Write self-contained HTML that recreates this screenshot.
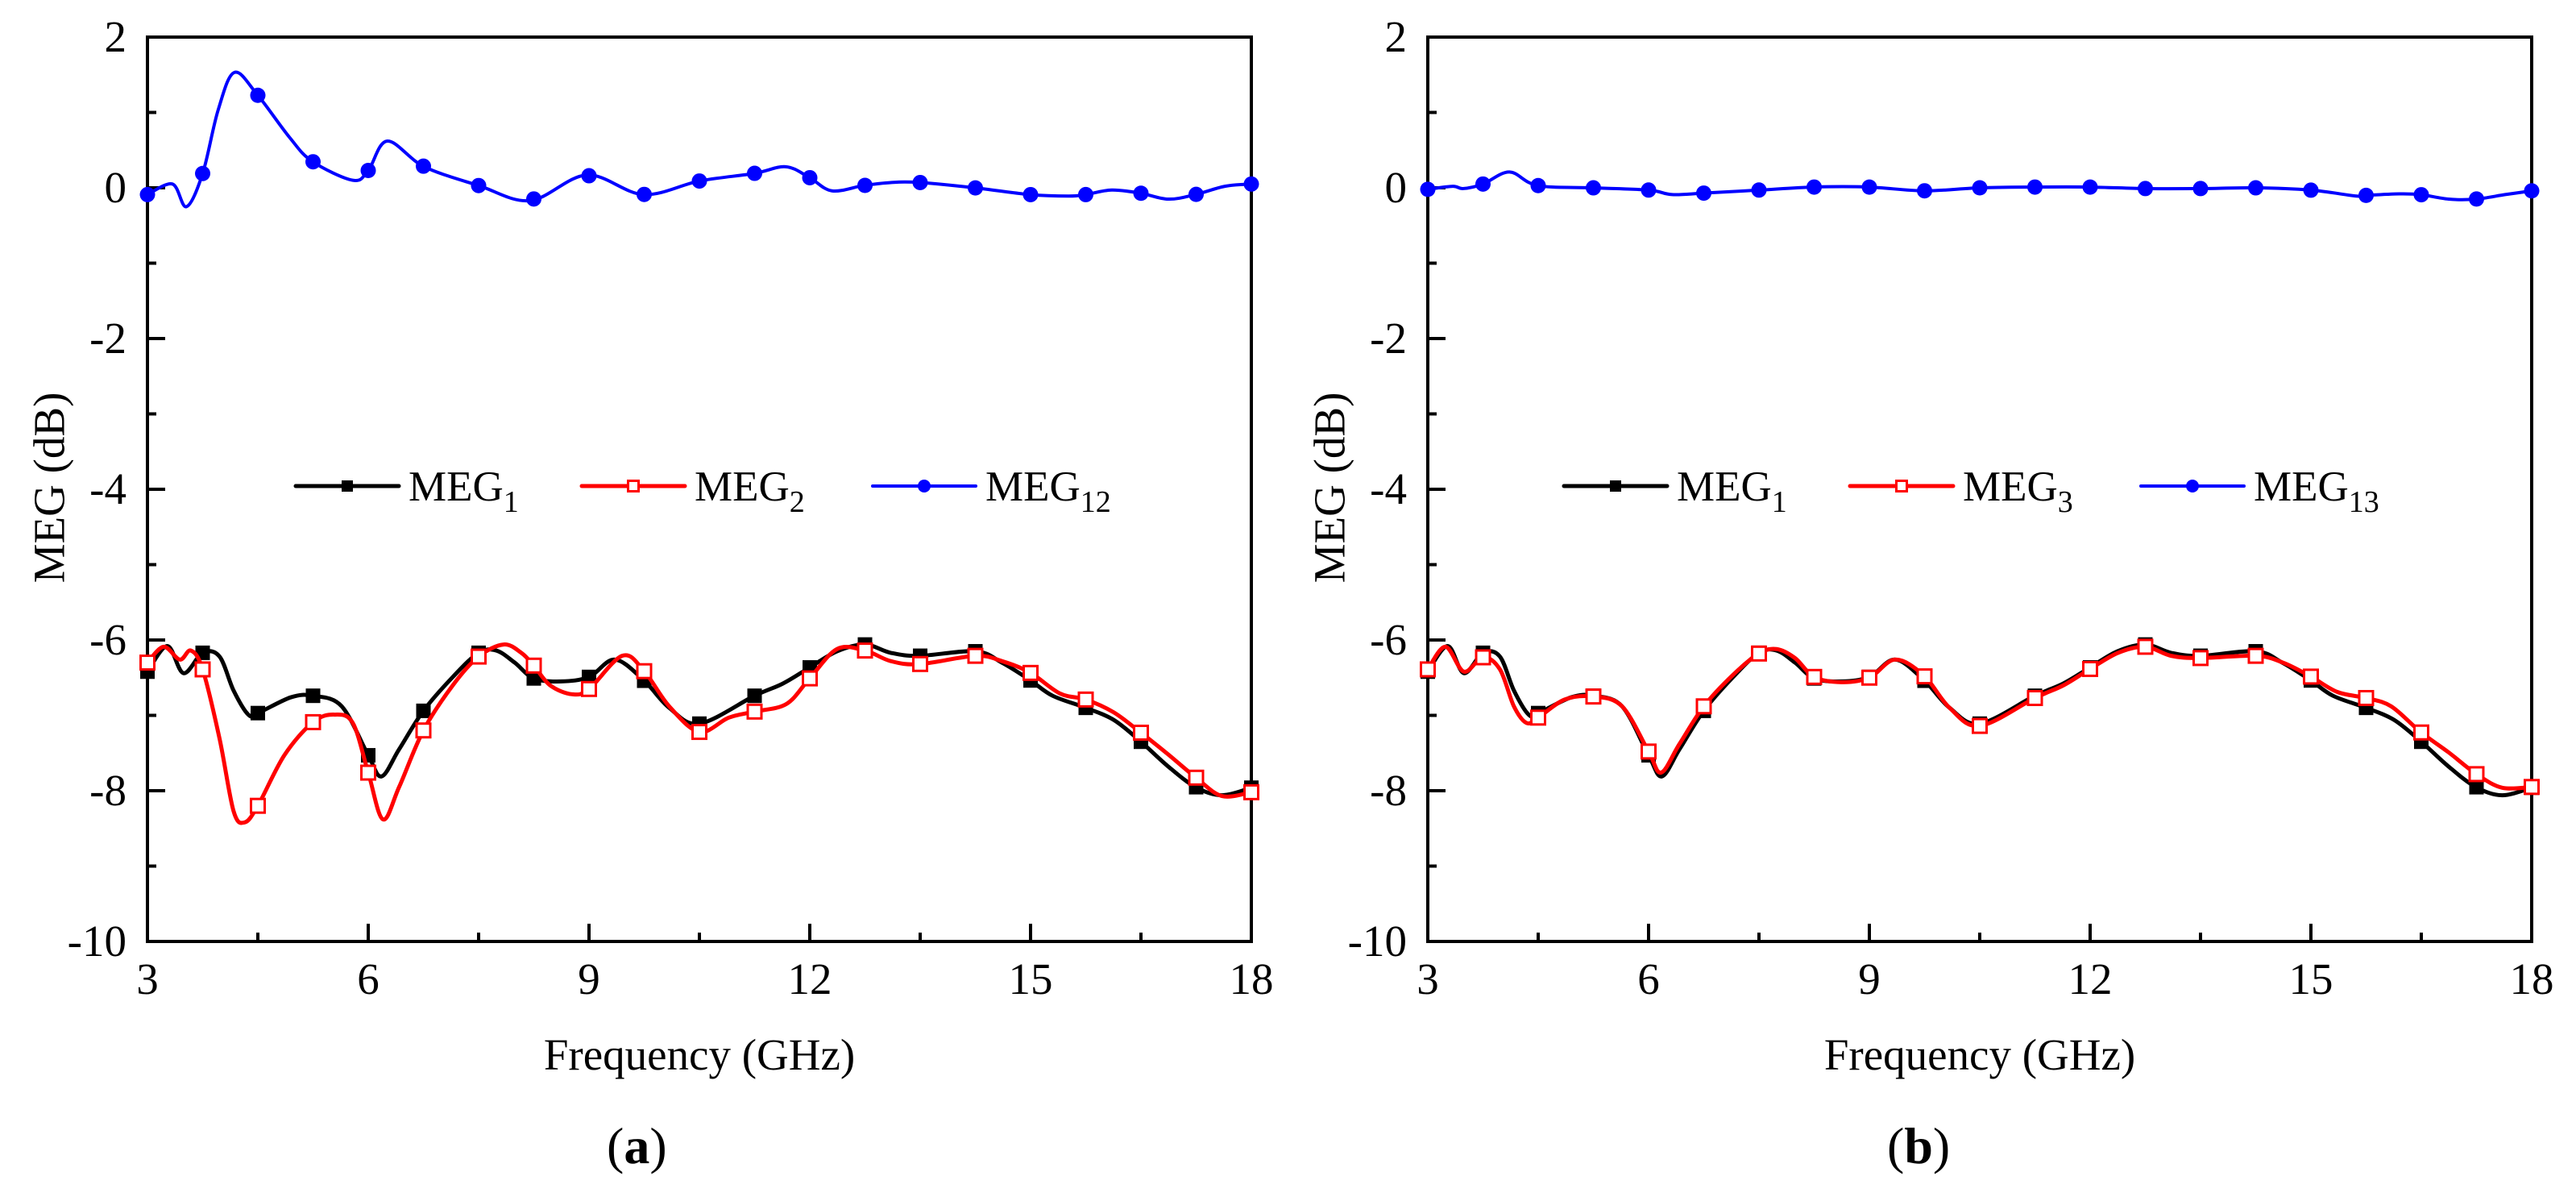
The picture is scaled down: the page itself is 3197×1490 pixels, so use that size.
<!DOCTYPE html>
<html><head><meta charset="utf-8"><style>
html,body{margin:0;padding:0;background:#fff;}
svg{display:block;font-family:"Liberation Serif","Times New Roman",serif;}
</style></head><body>
<svg id="fig" width="3197" height="1490" viewBox="0 0 3197 1490" xmlns="http://www.w3.org/2000/svg"></svg>
<script>
// ---- data (frequency GHz, MEG dB) ----
const meg1F = [3,3.27,3.49,3.75,3.98,4.17,4.37,4.5,4.95,5.25,5.64,6.0,6.18,6.42,6.75,7.15,7.5,7.74,7.99,8.25,8.62,9.0,9.35,9.74,10.09,10.5,11.25,11.63,11.99,12.37,12.75,13.1,13.49,14.25,14.61,14.99,15.3,15.75,16.13,16.5,16.86,17.24,17.6,18];
const meg1V = [-6.42,-6.08,-6.44,-6.17,-6.22,-6.67,-6.99,-6.97,-6.76,-6.74,-6.88,-7.53,-7.81,-7.45,-6.94,-6.49,-6.17,-6.14,-6.30,-6.51,-6.55,-6.49,-6.26,-6.53,-6.90,-7.11,-6.74,-6.58,-6.37,-6.15,-6.06,-6.17,-6.21,-6.15,-6.30,-6.53,-6.74,-6.90,-7.06,-7.35,-7.67,-7.95,-8.06,-7.96];
const meg2F = [3,3.22,3.44,3.59,3.75,3.98,4.17,4.32,4.5,4.86,5.25,5.54,5.79,6.0,6.2,6.42,6.75,7.15,7.5,7.84,8.08,8.25,8.47,8.77,9.0,9.45,9.74,10.09,10.5,10.9,11.25,11.68,11.99,12.37,12.75,13.1,13.49,14.25,14.61,14.99,15.4,15.75,16.13,16.5,16.86,17.24,17.6,18];
const meg2V = [-6.30,-6.09,-6.26,-6.14,-6.39,-7.31,-8.27,-8.42,-8.20,-7.53,-7.09,-6.99,-7.10,-7.76,-8.38,-7.95,-7.20,-6.60,-6.22,-6.06,-6.17,-6.34,-6.60,-6.72,-6.65,-6.21,-6.40,-6.88,-7.22,-7.03,-6.95,-6.85,-6.52,-6.12,-6.14,-6.28,-6.32,-6.21,-6.28,-6.43,-6.71,-6.79,-6.96,-7.23,-7.51,-7.82,-8.07,-8.02];
const meg12F = [3,3.34,3.53,3.75,3.96,4.18,4.49,4.93,5.24,5.79,6.0,6.26,6.76,7.5,8.2,8.97,9.74,10.5,11.24,11.67,11.99,12.3,12.73,13.1,13.5,14.24,14.99,15.52,15.75,16.1,16.49,16.87,17.24,17.64,18];
const meg12V = [-0.09,0.05,-0.25,0.19,1.03,1.53,1.24,0.67,0.35,0.10,0.23,0.62,0.28,0.03,-0.17,0.17,-0.09,0.09,0.19,0.28,0.14,-0.04,0.03,0.07,0.07,0.0,-0.09,-0.11,-0.09,-0.03,-0.07,-0.15,-0.09,0.02,0.05];
const meg3F = [3,3.24,3.49,3.75,3.98,4.17,4.34,4.5,4.86,5.25,5.64,6.0,6.17,6.42,6.75,7.15,7.5,7.74,7.99,8.25,8.62,9.0,9.35,9.74,10.09,10.5,11.25,11.64,11.99,12.38,12.75,13.1,13.49,14.25,14.62,14.99,15.36,15.75,16.09,16.49,16.87,17.25,17.6,18];
const meg3V = [-6.39,-6.09,-6.42,-6.23,-6.39,-6.88,-7.10,-7.03,-6.79,-6.75,-6.88,-7.48,-7.76,-7.38,-6.88,-6.46,-6.18,-6.12,-6.24,-6.49,-6.56,-6.50,-6.26,-6.47,-6.90,-7.14,-6.77,-6.60,-6.39,-6.17,-6.09,-6.21,-6.24,-6.21,-6.30,-6.48,-6.69,-6.77,-6.88,-7.22,-7.49,-7.78,-7.96,-7.95];
const meg13F = [3,3.34,3.48,3.75,4.11,4.49,5.24,6.0,6.32,6.76,7.5,8.25,8.99,9.74,10.5,11.24,11.99,12.75,13.5,14.24,14.99,15.62,15.75,16.2,16.49,16.87,17.24,17.64,18];
const meg13V = [-0.02,0.02,-0.01,0.05,0.21,0.03,0.0,-0.03,-0.09,-0.07,-0.03,0.01,0.01,-0.04,0.0,0.01,0.01,-0.01,-0.01,0.0,-0.03,-0.11,-0.10,-0.08,-0.09,-0.15,-0.15,-0.09,-0.04];
const markerFreqs = [3,3.75,4.5,5.25,6,6.75,7.5,8.25,9,9.75,10.5,11.25,12,12.75,13.5,14.25,15,15.75,16.5,17.25,18];
const xTicks = [3,6,9,12,15,18];
const yTicks = [-10,-8,-6,-4,-2,0,2];

const NS = "http://www.w3.org/2000/svg";
const svg = document.getElementById('fig');
function mk(tag, attrs, parent){ const e=document.createElementNS(NS,tag); for(const k in attrs) e.setAttribute(k,attrs[k]); (parent||svg).appendChild(e); return e; }

const PW = 1370, TOP = 46, BOT = 1168;
function makeAxes(x0){
  const xs = f => x0 + (f-3)/15*PW;
  const ys = v => TOP + (2-v)/12*(BOT-TOP);
  return {xs, ys};
}
function interp(F,V,f){
  for(let i=0;i<F.length-1;i++){ if(f>=F[i]&&f<=F[i+1]){ const t=(f-F[i])/(F[i+1]-F[i]); return V[i]+t*(V[i+1]-V[i]); } }
  return V[V.length-1];
}
function smoothPath(pts){
  let d = `M${pts[0][0]},${pts[0][1]}`;
  for(let i=0;i<pts.length-1;i++){
    const p0=pts[Math.max(0,i-1)], p1=pts[i], p2=pts[i+1], p3=pts[Math.min(pts.length-1,i+2)];
    const c1x=p1[0]+(p2[0]-p0[0])/6, c1y=p1[1]+(p2[1]-p0[1])/6;
    const c2x=p2[0]-(p3[0]-p1[0])/6, c2y=p2[1]-(p3[1]-p1[1])/6;
    d += ` C${c1x},${c1y} ${c2x},${c2y} ${p2[0]},${p2[1]}`;
  }
  return d;
}
function drawMarker(kind,x,y,g,legend){
  let e;
  if(kind==='sq'){ const s=legend?14:18; e=mk('rect',{x:x-s/2,y:y-s/2,width:s,height:s,fill:'#000'},g); }
  else if(kind==='osq'){ const s=legend?13:17; e=mk('rect',{x:x-s/2,y:y-s/2,width:s,height:s,fill:'#fff',stroke:'#f00','stroke-width':3},g); }
  else { e=mk('circle',{cx:x,cy:y,r:legend?8:9.5,fill:'#00f'},g); }
  return e;
}
function drawSeries(ax,F,V,color,width,kind,name){
  const g = mk('g',{});
  
  
  const pts = F.map((f,i)=>[ax.xs(f), ax.ys(V[i])]);
  const p = mk('path',{d:smoothPath(pts),fill:'none',stroke:color,'stroke-width':width,'stroke-linejoin':'round'},g);
  
  
  markerFreqs.forEach(f=>{
    const m = drawMarker(kind, ax.xs(f), ax.ys(interp(F,V,f)), g, false);
    
    
  });
}
function drawPanel(x0, id, series, legend, letter){
  const ax = makeAxes(x0);
  const g = mk('g',{});
  
  
  // ticks
  for(let f=3; f<=18.001; f+=1.5){
    const major = Math.abs(f/3-Math.round(f/3))<1e-6;
    const t = mk('line',{x1:ax.xs(f),x2:ax.xs(f),y1:BOT,y2:BOT-(major?22:11),stroke:'#000','stroke-width':4},g);
     
  }
  for(let v=-10; v<=2; v+=1){
    const major = v%2===0;
    const t = mk('line',{x1:x0,x2:x0+(major?22:11),y1:ax.ys(v),y2:ax.ys(v),stroke:'#000','stroke-width':4},g);
     
  }
  xTicks.forEach(f=>{
    const t = mk('text',{x:ax.xs(f),y:1233,'font-size':55,'text-anchor':'middle'},g); t.textContent=f;
     
  });
  yTicks.forEach(v=>{
    const t = mk('text',{x:x0-26,y:ax.ys(v)+18,'font-size':55,'text-anchor':'end'},g); t.textContent=v;
     
  });
  const xt = mk('text',{x:x0+PW/2,y:1327,'font-size':55,'text-anchor':'middle'},g); xt.textContent='Frequency (GHz)';
   
  const yx = x0-122;
  const yt = mk('text',{x:yx,y:605,'font-size':55,'text-anchor':'middle','dominant-baseline':'central',transform:`rotate(-90 ${yx} 605)`},g); yt.textContent='MEG (dB)';
   
  // series
  series.forEach(s=>drawSeries(ax,s.F,s.V,s.color,s.w,s.kind,s.name));
  // frame
  const fr = mk('rect',{x:x0,y:TOP,width:PW,height:BOT-TOP,fill:'none',stroke:'#000','stroke-width':4},g);
   
  // legend
  const lx = legend.x;
  series.forEach((s,i)=>{
    const sx = lx + i*355 + (i===2?6:0);
    const lg = mk('g',{},g);
    
    
    mk('line',{x1:sx,x2:sx+128,y1:603,y2:603,stroke:s.color,'stroke-width':s.w,'stroke-linecap':'round'},lg);
    drawMarker(s.kind,sx+64,603,lg,true);
    const t = mk('text',{x:sx+140,y:621,'font-size':53},lg);
    t.textContent = 'MEG';
    const sub = mk('tspan',{'font-size':38,dy:14},t); sub.textContent = s.sub;
  });
  const lt = mk('text',{x:letter,y:1443,'font-size':64},g);
   
  const a = mk('tspan',{},lt); a.textContent='(';
  const b = mk('tspan',{'font-weight':'bold'},lt); b.textContent=id;
  const c = mk('tspan',{},lt); c.textContent=')';
}
drawPanel(183,'a',[
  {F:meg1F,V:meg1V,color:'#000',w:5,kind:'sq',name:'meg1',sub:'1'},
  {F:meg2F,V:meg2V,color:'#f00',w:5,kind:'osq',name:'meg2',sub:'2'},
  {F:meg12F,V:meg12V,color:'#00f',w:4,kind:'circ',name:'meg12',sub:'12'}
],{x:367},753);
drawPanel(1772,'b',[
  {F:meg1F,V:meg1V,color:'#000',w:5,kind:'sq',name:'meg1-b',sub:'1'},
  {F:meg3F,V:meg3V,color:'#f00',w:5,kind:'osq',name:'meg3',sub:'3'},
  {F:meg13F,V:meg13V,color:'#00f',w:4,kind:'circ',name:'meg13',sub:'13'}
],{x:1941},2342);
</script>
</body></html>
